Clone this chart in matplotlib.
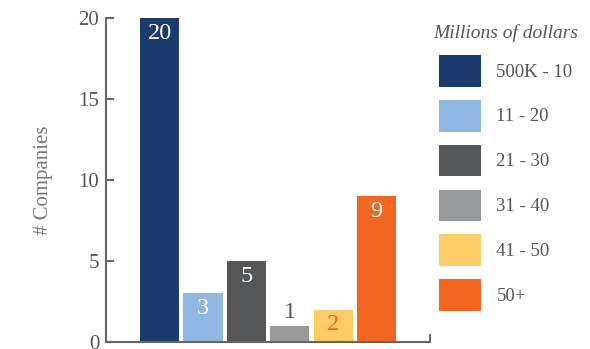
import matplotlib.pyplot as plt
from matplotlib.patches import Patch

plt.rcParams['font.family'] = ['Liberation Serif', 'DejaVu Serif']

# companies per funding range (millions of dollars)
ranges = ["500K - 10", "11 - 20", "21 - 30", "31 - 40", "41 - 50", "50+"]
counts = [20, 3, 5, 1, 2, 9]
colors = ["#1b3b6f", "#8fb7e1", "#555658", "#98999b", "#fdcc64", "#f36621"]
label_colors = ["white", "white", "white", "#555555", "#f36621", "white"]

fig = plt.figure(figsize=(5.9, 3.49), dpi=100)
ax = fig.add_axes([0.18, 0.02, 0.549, 0.928])

xs = list(range(len(counts)))
bars = ax.bar(xs, counts, width=0.9, color=colors)

for x, v, c in zip(xs, counts, label_colors):
    if v >= 2:
        ax.text(x, v - 0.3, str(v), ha="center", va="top", fontsize=17.5, color=c)
    else:
        ax.text(x, v + 0.2, str(v), ha="center", va="bottom", fontsize=17.5, color=c)

axis_gray = "#666666"
ax.set_xlim(-1.23, 6.23)
ax.set_ylim(0, 20)
ax.set_yticks([0, 5, 10, 15, 20])
ax.set_xticks([-1.23, 6.23])
ax.set_xticklabels([])
ax.tick_params(axis="y", direction="in", length=6, width=1.5, color=axis_gray,
               labelsize=15, labelcolor="#555555", pad=5)
ax.tick_params(axis="x", direction="in", length=6, width=1.5, color=axis_gray)
for side in ["top", "right"]:
    ax.spines[side].set_visible(False)
for side in ["left", "bottom"]:
    ax.spines[side].set_color(axis_gray)
    ax.spines[side].set_linewidth(1.5)

ax.set_ylabel("# Companies", fontsize=15, color="#777777", labelpad=18)

handles = [Patch(facecolor=c, edgecolor="none") for c in colors]
leg = fig.legend(handles, ranges, loc="upper left", bbox_to_anchor=(0.706, 0.98),
                 frameon=False, fontsize=13.5, handlelength=2.2, handleheight=2.23,
                 labelspacing=0.7, handletextpad=0.85,
                 title="Millions of dollars",
                 title_fontproperties={"size": 14, "style": "italic"})
leg.get_title().set_color("#555555")
for t in leg.get_texts():
    t.set_color("#555555")

fig.savefig("out.png", dpi=100)
